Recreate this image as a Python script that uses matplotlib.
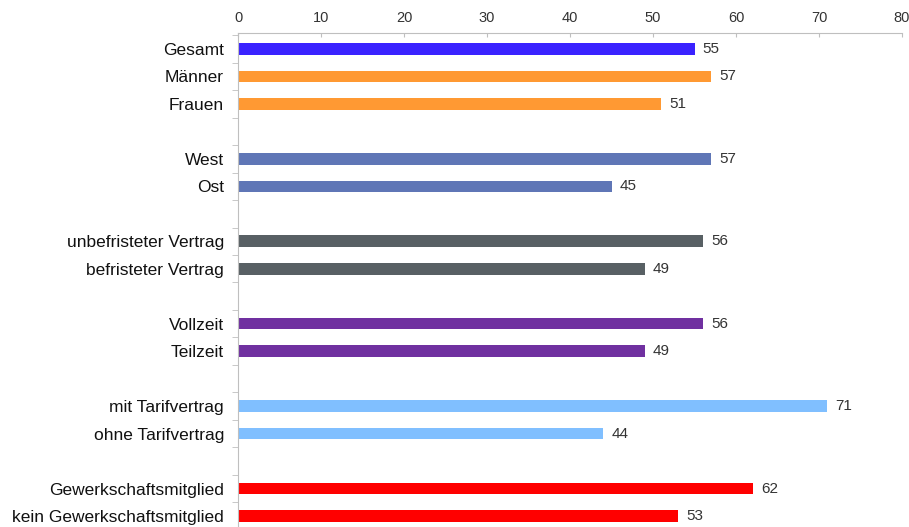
# Horizontal bar chart: share by group
from matplotlib import pyplot as plt
import numpy as np

plt.rcParams['font.family'] = ['Liberation Sans', 'DejaVu Sans']

labels = ['Gesamt', 'Männer', 'Frauen', '',
          'West', 'Ost', '',
          'unbefristeter Vertrag', 'befristeter Vertrag', '',
          'Vollzeit', 'Teilzeit', '',
          'mit Tarifvertrag', 'ohne Tarifvertrag', '',
          'Gewerkschaftsmitglied', 'kein Gewerkschaftsmitglied']
values = [55, 57, 51, None,
          57, 45, None,
          56, 49, None,
          56, 49, None,
          71, 44, None,
          62, 53]
colors = ['#3A22FF', '#FF9933', '#FF9933', None,
          '#5F76B6', '#5F76B6', None,
          '#586064', '#586064', None,
          '#7030A0', '#7030A0', None,
          '#80BFFF', '#80BFFF', None,
          '#FF0000', '#FF0000']

fig = plt.figure(figsize=(9.09, 5.27), dpi=100)
ax = fig.add_axes([238 / 909, 0, 664 / 909, 1 - 33 / 527])

pos = np.arange(len(labels))
for y, v, c in zip(pos, values, colors):
    if v is None:
        continue
    ax.barh(y, v, height=0.42, color=c)
    ax.annotate(str(v), (v, y), xytext=(6, 0), textcoords='offset points',
                va='center', ha='left', fontsize=11, color='#333333')

ax.set_xlim(0, 80)
ax.set_ylim(17.40, -0.58)
ax.xaxis.tick_top()
ax.set_xticks(range(0, 81, 10))
ax.tick_params(axis='x', direction='in', length=3, color='#BFBFBF',
               labelsize=10.5, labelcolor='#333333', pad=6)

ax.set_yticks(pos)
ax.set_yticklabels(labels)
ax.set_yticks(np.arange(-0.5, 17.5, 1), minor=True)
ax.tick_params(axis='y', which='major', length=0, labelsize=12.5, pad=10, labelcolor='#111111')
ax.tick_params(axis='y', which='minor', length=4, color='#BFBFBF')

for s in ['right', 'bottom']:
    ax.spines[s].set_visible(False)
for s in ['left', 'top']:
    ax.spines[s].set_color('#BFBFBF')

plt.savefig('out.png', dpi=100)
